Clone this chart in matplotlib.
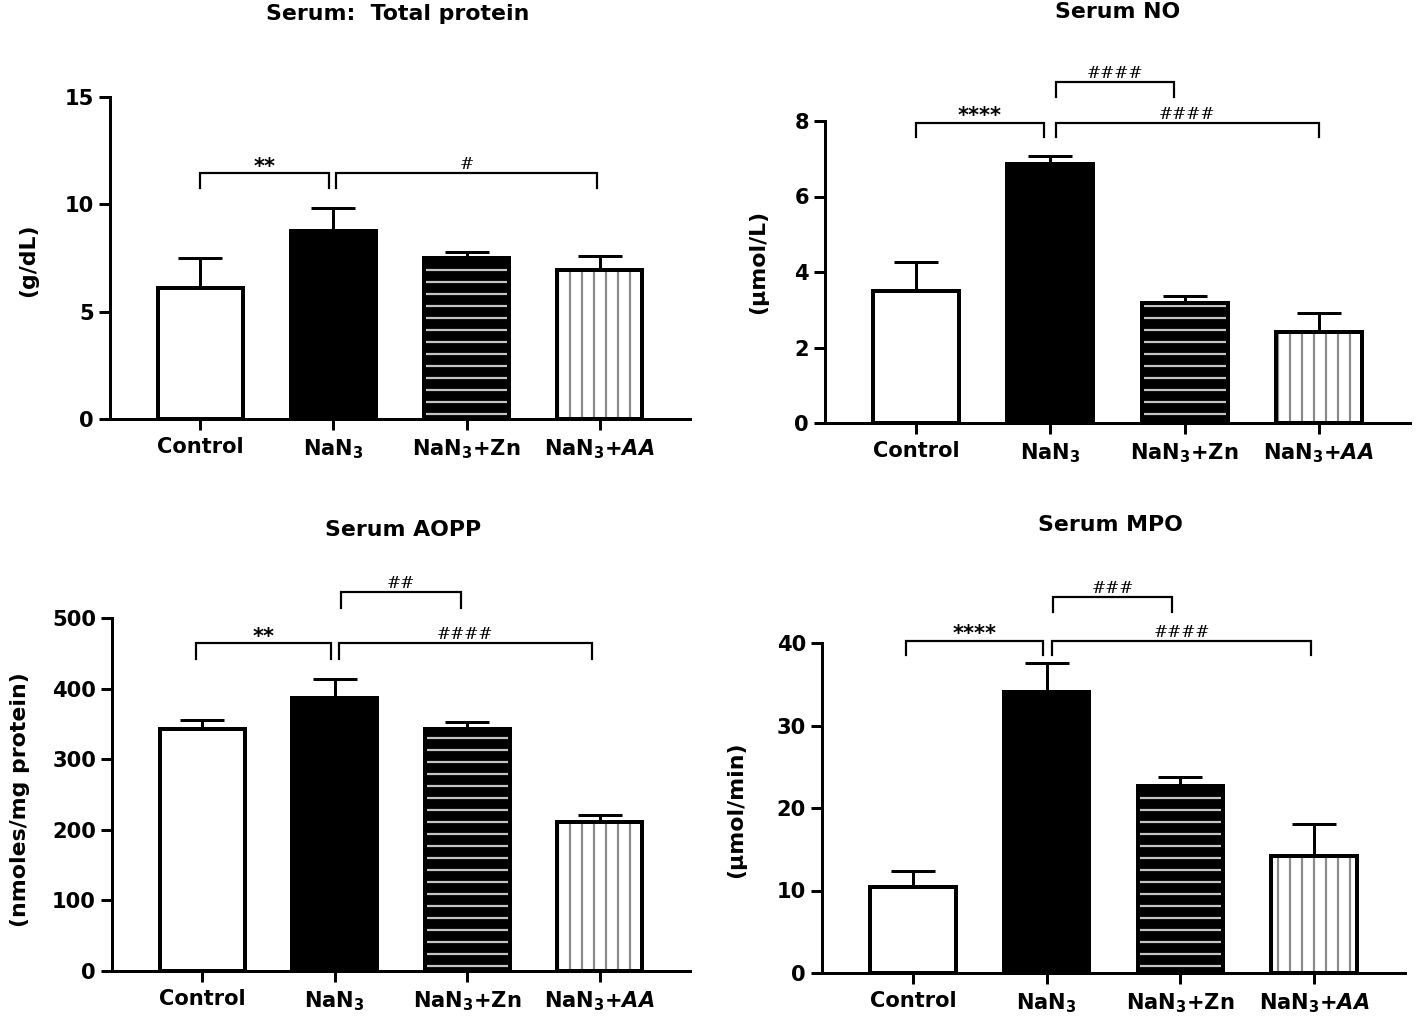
import matplotlib
matplotlib.use('Agg')
import matplotlib.pyplot as plt
import numpy as np

plt.rcParams['font.family'] = ['DejaVu Sans']
plt.rcParams['font.weight'] = 'bold'
plt.rcParams['mathtext.fontset'] = 'dejavusans'
plt.rcParams['mathtext.default'] = 'regular'
plt.rcParams['hatch.linewidth'] = 2.2

# ---------------- data ----------------
groups = ['Control', 'NaN$_3$', 'NaN$_3$+Zn', 'NaN$_3$+$\\mathit{AA}$']

tp_mean = [6.1, 8.77, 7.48, 6.94]
tp_sem = [1.42, 1.07, 0.28, 0.64]

no_mean = [3.50, 6.87, 3.18, 2.42]
no_sem = [0.76, 0.19, 0.19, 0.49]

aopp_mean = [343, 386, 343, 211]
aopp_sem = [12, 27, 10, 10]

mpo_mean = [10.4, 34.1, 22.7, 14.2]
mpo_sem = [2.0, 3.5, 1.06, 3.84]

titles = ['Serum:  Total protein', 'Serum NO', 'Serum AOPP', 'Serum MPO']
ylabels = ['(g/dL)', '(\u03bcmol/L)', '(nmoles/mg protein)', '(\u03bcmol/min)']
yticks = [[0, 5, 10, 15], [0, 2, 4, 6, 8], [0, 100, 200, 300, 400, 500], [0, 10, 20, 30, 40]]

# significance brackets: (x_left, x_right, y, leg_drop, label)
tp_sig = [(0.0, 0.97, 11.44, 0.7, '**'), (1.02, 2.98, 11.44, 0.7, '#')]
no_sig = [(0.0, 0.95, 7.94, 0.36, '****'), (1.04, 3.0, 7.94, 0.36, '####'),
          (1.04, 1.92, 9.02, 0.38, '####')]
aopp_sig = [(-0.05, 0.97, 464, 22, '**'), (1.03, 2.94, 464, 22, '####'),
            (1.05, 1.95, 537, 23, '##')]
mpo_sig = [(-0.05, 0.97, 40.3, 1.7, '****'), (1.04, 2.98, 40.3, 1.7, '####'),
           (1.05, 1.94, 45.6, 1.9, '###')]

means = [tp_mean, no_mean, aopp_mean, mpo_mean]
sems = [tp_sem, no_sem, aopp_sem, mpo_sem]
sigs = [tp_sig, no_sig, aopp_sig, mpo_sig]

# ---------------- layout (pixel based, 1418x1020 @72dpi) ----------------
W, H = 1418, 1020
fig = plt.figure(figsize=(W / 72, H / 72), dpi=72)

# (left, right, top, bottom) in pixels
rects_px = [(110, 690, 97, 419), (825, 1410, 121, 423),
            (112, 690, 618, 971), (822, 1405, 643, 973)]
title_px = [(398, 14), (1118, 12), (403, 530), (1110, 525)]
ylab_px = [(28, 260), (758, 262), (20, 800), (736, 810)]

for i in range(4):
    l, r, t, b = rects_px[i]
    ax = fig.add_axes([l / W, 1 - b / H, (r - l) / W, (b - t) / H])
    x = np.arange(len(groups))
    m = means[i]
    s = sems[i]
    w = 0.64
    ax.errorbar(x, m, yerr=[np.zeros(len(m)), s], fmt='none', ecolor='black',
                elinewidth=3, capsize=22, capthick=3, zorder=1)
    ax.bar(x[0], m[0], width=w, color='white', edgecolor='black', lw=4, zorder=2)
    ax.bar(x[1], m[1], width=w, color='black', edgecolor='black', lw=4, zorder=2)
    ax.bar(x[2], m[2], width=w, facecolor='black', edgecolor='#c4c4c4', hatch='-', lw=0, zorder=2)
    ax.bar(x[2], m[2], width=w, fill=False, edgecolor='black', lw=4, zorder=3)
    ax.bar(x[3], m[3], width=w, facecolor='white', edgecolor='#8c8c8c', hatch='|', lw=0, zorder=2)
    ax.bar(x[3], m[3], width=w, fill=False, edgecolor='black', lw=4, zorder=3)

    ax.set_xlim(-0.68, 3.68)
    yt = yticks[i]
    ax.set_ylim(0, yt[-1])
    ax.set_yticks(yt)
    ax.set_xticks(x)
    ax.set_xticklabels(groups, fontsize=21, fontweight='bold')
    for sp in ['top', 'right']:
        ax.spines[sp].set_visible(False)
    for sp in ['left', 'bottom']:
        ax.spines[sp].set_linewidth(3)
    ax.tick_params(axis='both', width=3, length=11, labelsize=21)
    ax.tick_params(axis='x', pad=7)
    ax.tick_params(axis='y', pad=5)

    for (x1, x2, yb, d, lab) in sigs[i]:
        ax.plot([x1, x1, x2, x2], [yb - d, yb, yb, yb - d], color='black', lw=2.2,
                clip_on=False, solid_joinstyle='miter')
        if lab.startswith('#'):
            ax.text((x1 + x2) / 2, yb, lab, ha='center', va='bottom', fontsize=17,
                    fontweight='normal', family='DejaVu Serif')
        else:
            ax.text((x1 + x2) / 2, yb - 0.01 * yt[-1], lab, ha='center', va='bottom',
                    fontsize=21, fontweight='bold')

    tx, ty = title_px[i]
    fig.text(tx / W, 1 - ty / H, titles[i], ha='center', va='center', fontsize=22,
             fontweight='bold')
    lx, ly = ylab_px[i]
    fig.text(lx / W, 1 - ly / H, ylabels[i], ha='center', va='center', rotation=90,
             fontsize=22, fontweight='bold')

fig.savefig('out.png', dpi=72)
